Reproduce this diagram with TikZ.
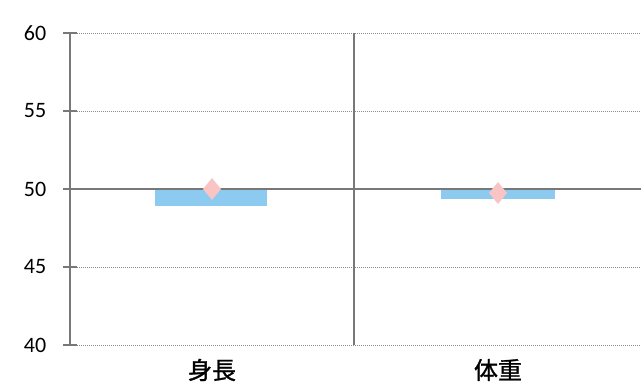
\documentclass[tikz,border=0pt]{standalone}
\usepackage{fontspec}
\setmainfont{Carlito}
\newfontfamily\cjk[AutoFakeBold=1.2]{Noto Sans CJK JP}
\definecolor{barblue}{RGB}{140,202,240}
\definecolor{dpink}{RGB}{248,196,196}
\definecolor{gridgray}{RGB}{140,140,140}
\definecolor{axgray}{RGB}{120,120,120}
\begin{document}
\begin{tikzpicture}[x=1pt,y=-1pt]
\tikzset{
  gridline/.style={gridgray, line width=1pt, dash pattern=on 1pt off 1pt},
  axisline/.style={axgray, line width=1.2pt},
  baseline/.style={axgray, line width=1.5pt},
  ylab/.style={font=\fontsize{22}{22}\selectfont, anchor=center},
  catlab/.style={font=\cjk\bfseries\fontsize{24}{24}\selectfont, anchor=center},
  bar/.style={fill=barblue, draw=none},
  dmark/.style={fill=dpink, draw=none}
}
\useasboundingbox (0,0) rectangle (641,384);
% gridlines
\foreach \v/\y in {60/33,55/111,45/267,40/345}{
  \draw[gridline] (77,\y) -- (641,\y);
  \node[ylab] (yl\v) at (35,\y) {\v};
  \draw[axisline] (63,\y) -- (77,\y);
}
\node[ylab] (yl50) at (35,189) {50};
\draw[axisline] (63,189) -- (77,189);
% axis and separator
\draw[axisline] (70,33) -- (70,345);
\draw[axisline] (354,33) -- (354,345);
% bars
\fill[bar] (155,189) rectangle (267,206);
\fill[bar] (441,189) rectangle (555,199);
% baseline
\draw[baseline] (70,189) -- (641,189);
% diamonds
\fill[dmark] (212,178) -- (221,189) -- (212,200) -- (203,189) -- cycle;
\fill[dmark] (498,182) -- (507,193) -- (498,204) -- (489,193) -- cycle;
% category labels
\node[catlab] (c1) at (212,370) {身長};
\node[catlab] (c2) at (498,370) {体重};
\end{tikzpicture}
\end{document}
